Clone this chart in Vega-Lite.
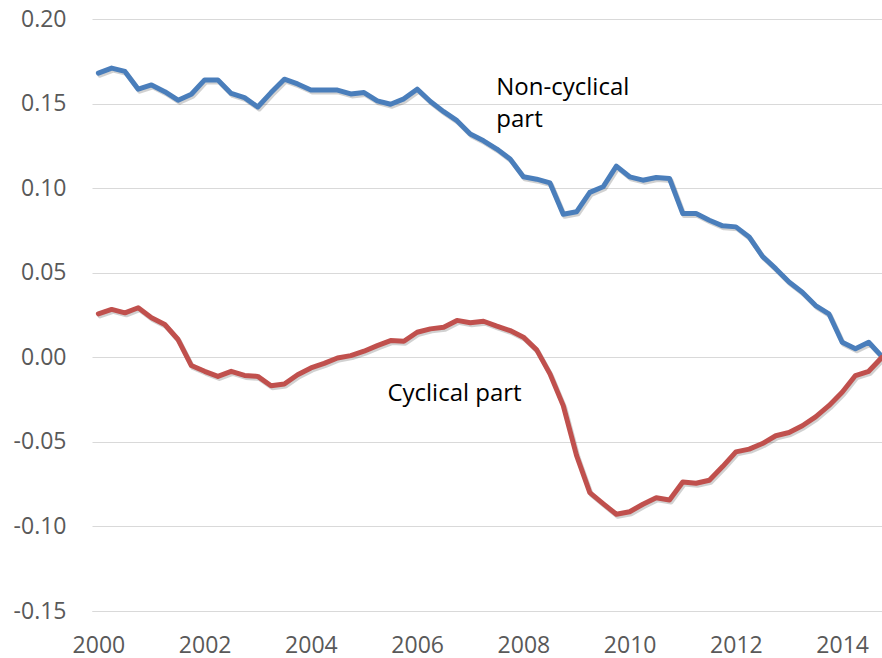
{
  "$schema": "https://vega.github.io/schema/vega-lite/v6.json",
  "width": 790,
  "height": 592,
  "autosize": {"type": "none"},
  "padding": {"left": 92, "top": 19, "right": 0, "bottom": 47},
  "background": "white",
  "config": {"view": {"stroke": null}, "font": "Open Sans"},
  "datasets": {
    "series": [
      {"t": 2000, "s": "Non-cyclical", "v": 0.168},
      {"t": 2000.25, "s": "Non-cyclical", "v": 0.171},
      {"t": 2000.5, "s": "Non-cyclical", "v": 0.169},
      {"t": 2000.75, "s": "Non-cyclical", "v": 0.1585},
      {"t": 2001, "s": "Non-cyclical", "v": 0.161},
      {"t": 2001.25, "s": "Non-cyclical", "v": 0.157},
      {"t": 2001.5, "s": "Non-cyclical", "v": 0.152},
      {"t": 2001.75, "s": "Non-cyclical", "v": 0.1555},
      {"t": 2002, "s": "Non-cyclical", "v": 0.164},
      {"t": 2002.25, "s": "Non-cyclical", "v": 0.164},
      {"t": 2002.5, "s": "Non-cyclical", "v": 0.156},
      {"t": 2002.75, "s": "Non-cyclical", "v": 0.1535},
      {"t": 2003, "s": "Non-cyclical", "v": 0.148},
      {"t": 2003.25, "s": "Non-cyclical", "v": 0.1565},
      {"t": 2003.5, "s": "Non-cyclical", "v": 0.1644},
      {"t": 2003.75, "s": "Non-cyclical", "v": 0.1616},
      {"t": 2004, "s": "Non-cyclical", "v": 0.158},
      {"t": 2004.25, "s": "Non-cyclical", "v": 0.158},
      {"t": 2004.5, "s": "Non-cyclical", "v": 0.158},
      {"t": 2004.75, "s": "Non-cyclical", "v": 0.1557},
      {"t": 2005, "s": "Non-cyclical", "v": 0.1565},
      {"t": 2005.25, "s": "Non-cyclical", "v": 0.1516},
      {"t": 2005.5, "s": "Non-cyclical", "v": 0.1496},
      {"t": 2005.75, "s": "Non-cyclical", "v": 0.1528},
      {"t": 2006, "s": "Non-cyclical", "v": 0.1585},
      {"t": 2006.25, "s": "Non-cyclical", "v": 0.1512},
      {"t": 2006.5, "s": "Non-cyclical", "v": 0.1452},
      {"t": 2006.75, "s": "Non-cyclical", "v": 0.1399},
      {"t": 2007, "s": "Non-cyclical", "v": 0.132},
      {"t": 2007.25, "s": "Non-cyclical", "v": 0.128},
      {"t": 2007.5, "s": "Non-cyclical", "v": 0.1231},
      {"t": 2007.75, "s": "Non-cyclical", "v": 0.1172},
      {"t": 2008, "s": "Non-cyclical", "v": 0.1067},
      {"t": 2008.25, "s": "Non-cyclical", "v": 0.1053},
      {"t": 2008.5, "s": "Non-cyclical", "v": 0.1031},
      {"t": 2008.75, "s": "Non-cyclical", "v": 0.0846},
      {"t": 2009, "s": "Non-cyclical", "v": 0.086},
      {"t": 2009.25, "s": "Non-cyclical", "v": 0.0975},
      {"t": 2009.5, "s": "Non-cyclical", "v": 0.1008},
      {"t": 2009.75, "s": "Non-cyclical", "v": 0.113},
      {"t": 2010, "s": "Non-cyclical", "v": 0.1067},
      {"t": 2010.25, "s": "Non-cyclical", "v": 0.1047},
      {"t": 2010.5, "s": "Non-cyclical", "v": 0.1063},
      {"t": 2010.75, "s": "Non-cyclical", "v": 0.1057},
      {"t": 2011, "s": "Non-cyclical", "v": 0.085},
      {"t": 2011.25, "s": "Non-cyclical", "v": 0.085},
      {"t": 2011.5, "s": "Non-cyclical", "v": 0.081},
      {"t": 2011.75, "s": "Non-cyclical", "v": 0.0777},
      {"t": 2012, "s": "Non-cyclical", "v": 0.0771},
      {"t": 2012.25, "s": "Non-cyclical", "v": 0.0711},
      {"t": 2012.5, "s": "Non-cyclical", "v": 0.0597},
      {"t": 2012.75, "s": "Non-cyclical", "v": 0.0524},
      {"t": 2013, "s": "Non-cyclical", "v": 0.0445},
      {"t": 2013.25, "s": "Non-cyclical", "v": 0.0385},
      {"t": 2013.5, "s": "Non-cyclical", "v": 0.0306},
      {"t": 2013.75, "s": "Non-cyclical", "v": 0.0257},
      {"t": 2014, "s": "Non-cyclical", "v": 0.0089},
      {"t": 2014.25, "s": "Non-cyclical", "v": 0.005},
      {"t": 2014.5, "s": "Non-cyclical", "v": 0.0089},
      {"t": 2014.75, "s": "Non-cyclical", "v": 0.0004},
      {"t": 2000, "s": "Cyclical", "v": 0.0257},
      {"t": 2000.25, "s": "Cyclical", "v": 0.0283},
      {"t": 2000.5, "s": "Cyclical", "v": 0.0263},
      {"t": 2000.75, "s": "Cyclical", "v": 0.0293},
      {"t": 2001, "s": "Cyclical", "v": 0.0234},
      {"t": 2001.25, "s": "Cyclical", "v": 0.0194},
      {"t": 2001.5, "s": "Cyclical", "v": 0.0105},
      {"t": 2001.75, "s": "Cyclical", "v": -0.0049},
      {"t": 2002, "s": "Cyclical", "v": -0.0083},
      {"t": 2002.25, "s": "Cyclical", "v": -0.0113},
      {"t": 2002.5, "s": "Cyclical", "v": -0.0083},
      {"t": 2002.75, "s": "Cyclical", "v": -0.0107},
      {"t": 2003, "s": "Cyclical", "v": -0.0113},
      {"t": 2003.25, "s": "Cyclical", "v": -0.0168},
      {"t": 2003.5, "s": "Cyclical", "v": -0.0158},
      {"t": 2003.75, "s": "Cyclical", "v": -0.0103},
      {"t": 2004, "s": "Cyclical", "v": -0.0063},
      {"t": 2004.25, "s": "Cyclical", "v": -0.0036},
      {"t": 2004.5, "s": "Cyclical", "v": -0.0004},
      {"t": 2004.75, "s": "Cyclical", "v": 0.001},
      {"t": 2005, "s": "Cyclical", "v": 0.0036},
      {"t": 2005.25, "s": "Cyclical", "v": 0.0069},
      {"t": 2005.5, "s": "Cyclical", "v": 0.0099},
      {"t": 2005.75, "s": "Cyclical", "v": 0.0095},
      {"t": 2006, "s": "Cyclical", "v": 0.0148},
      {"t": 2006.25, "s": "Cyclical", "v": 0.0168},
      {"t": 2006.5, "s": "Cyclical", "v": 0.0178},
      {"t": 2006.75, "s": "Cyclical", "v": 0.0218},
      {"t": 2007, "s": "Cyclical", "v": 0.0204},
      {"t": 2007.25, "s": "Cyclical", "v": 0.0213},
      {"t": 2007.5, "s": "Cyclical", "v": 0.0184},
      {"t": 2007.75, "s": "Cyclical", "v": 0.0158},
      {"t": 2008, "s": "Cyclical", "v": 0.0119},
      {"t": 2008.25, "s": "Cyclical", "v": 0.0044},
      {"t": 2008.5, "s": "Cyclical", "v": -0.0098},
      {"t": 2008.75, "s": "Cyclical", "v": -0.0286},
      {"t": 2009, "s": "Cyclical", "v": -0.058},
      {"t": 2009.25, "s": "Cyclical", "v": -0.08},
      {"t": 2009.5, "s": "Cyclical", "v": -0.0865},
      {"t": 2009.75, "s": "Cyclical", "v": -0.0928},
      {"t": 2010, "s": "Cyclical", "v": -0.0913},
      {"t": 2010.25, "s": "Cyclical", "v": -0.0869},
      {"t": 2010.5, "s": "Cyclical", "v": -0.083},
      {"t": 2010.75, "s": "Cyclical", "v": -0.0844},
      {"t": 2011, "s": "Cyclical", "v": -0.0737},
      {"t": 2011.25, "s": "Cyclical", "v": -0.0745},
      {"t": 2011.5, "s": "Cyclical", "v": -0.0727},
      {"t": 2011.75, "s": "Cyclical", "v": -0.0646},
      {"t": 2012, "s": "Cyclical", "v": -0.0559},
      {"t": 2012.25, "s": "Cyclical", "v": -0.0543},
      {"t": 2012.5, "s": "Cyclical", "v": -0.051},
      {"t": 2012.75, "s": "Cyclical", "v": -0.0464},
      {"t": 2013, "s": "Cyclical", "v": -0.0445},
      {"t": 2013.25, "s": "Cyclical", "v": -0.0405},
      {"t": 2013.5, "s": "Cyclical", "v": -0.0352},
      {"t": 2013.75, "s": "Cyclical", "v": -0.0286},
      {"t": 2014, "s": "Cyclical", "v": -0.0207},
      {"t": 2014.25, "s": "Cyclical", "v": -0.0108},
      {"t": 2014.5, "s": "Cyclical", "v": -0.0083},
      {"t": 2014.75, "s": "Cyclical", "v": 0.0}
    ],
    "notes": [
      {"t": 2007.49, "v": 0.1551, "label": "Non-cyclical"},
      {"t": 2007.49, "v": 0.1363, "label": "part"},
      {"t": 2005.44, "v": -0.0261, "label": "Cyclical part"}
    ]
  },
  "layer": [
    {
      "data": {"name": "series"},
      "mark": {"type": "line", "strokeWidth": 5, "color": "#000000", "opacity": 0.18, "xOffset": 1.5, "yOffset": 2, "strokeJoin": "round", "strokeCap": "round"},
      "encoding": {
        "x": {"field": "t", "type": "quantitative", "scale": {"domain": [1999.88, 2014.75], "nice": false, "zero": false},
          "axis": {"values": [2000, 2002, 2004, 2006, 2008, 2010, 2012, 2014], "format": "d", "grid": false, "ticks": false, "domain": true, "domainColor": "#D9D9D9", "domainWidth": 1, "labelFontSize": 23, "labelColor": "#595959", "labelPadding": 23, "labelFlush": false, "title": null}},
        "y": {"field": "v", "type": "quantitative", "scale": {"domain": [-0.15, 0.2], "nice": false, "zero": false},
          "axis": {"values": [-0.15, -0.1, -0.05, 0, 0.05, 0.1, 0.15, 0.2], "format": ".2f", "labelExpr": "replace(datum.label, '\u2212', '-')", "grid": true, "gridColor": "#D9D9D9", "gridWidth": 1, "ticks": false, "domain": false, "labelFontSize": 23, "labelColor": "#595959", "labelPadding": 26, "title": null}},
        "detail": {"field": "s"}
      }
    },
    {
      "data": {"name": "series"},
      "mark": {"type": "line", "strokeWidth": 5, "strokeJoin": "round", "strokeCap": "round"},
      "encoding": {
        "x": {"field": "t", "type": "quantitative"},
        "y": {"field": "v", "type": "quantitative"},
        "color": {"field": "s", "type": "nominal", "scale": {"domain": ["Non-cyclical", "Cyclical"], "range": ["#4A7EBB", "#C0504D"]}, "legend": null}
      }
    },
    {
      "data": {"name": "notes"},
      "mark": {"type": "text", "align": "left", "baseline": "alphabetic", "fontSize": 24, "color": "#000000"},
      "encoding": {
        "x": {"field": "t", "type": "quantitative"},
        "y": {"field": "v", "type": "quantitative"},
        "text": {"field": "label"}
      }
    }
  ]
}
